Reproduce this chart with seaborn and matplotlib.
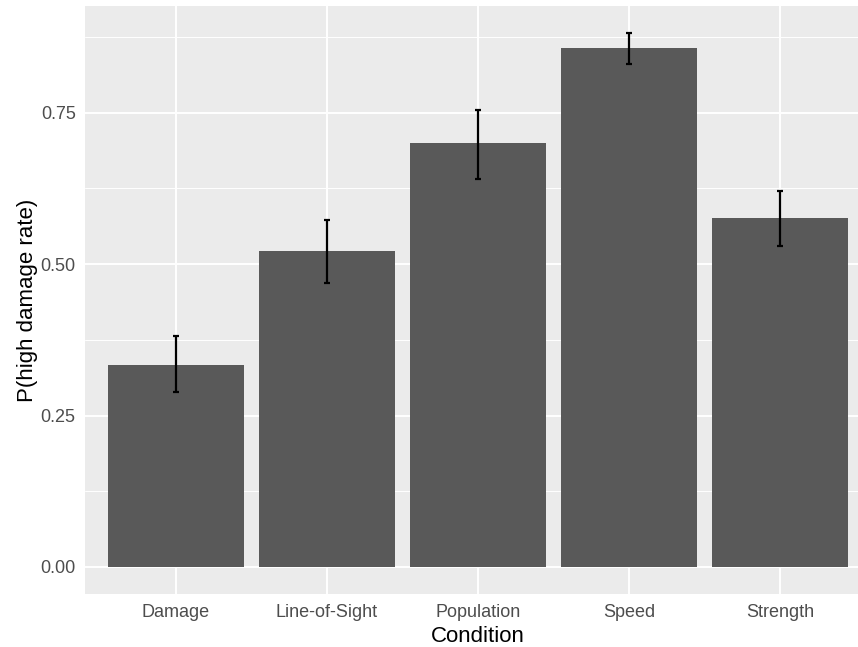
import numpy as np
import pandas as pd
import matplotlib
matplotlib.use("Agg")
import matplotlib.pyplot as plt
from matplotlib.ticker import FixedLocator
import seaborn as sns

conditions = ["Damage", "Line-of-Sight", "Population", "Speed", "Strength"]
p_high = [0.333, 0.521, 0.700, 0.856, 0.576]
ci_low = [0.289, 0.469, 0.640, 0.830, 0.530]
ci_high = [0.381, 0.573, 0.754, 0.881, 0.620]
y_ticks = [0.00, 0.25, 0.50, 0.75]
y_tick_labels = ["0.00", "0.25", "0.50", "0.75"]

df = pd.DataFrame({"Condition": conditions, "p": p_high})

sns.set_theme(style="darkgrid")
plt.rcParams["font.family"] = ["Liberation Sans", "DejaVu Sans"]

fig = plt.figure(figsize=(8.58, 6.47), dpi=100)
ax = fig.add_axes([85 / 858, 53 / 647, (870.6 - 85) / 858, 588 / 647])
ax.set_facecolor("#EBEBEB")

sns.barplot(data=df, x="Condition", y="p", color="#595959", saturation=1,
            width=0.9, errorbar=None, ax=ax, zorder=2,
            edgecolor="none", linewidth=0)

x = np.arange(len(conditions))
p = np.array(p_high)
yerr = np.vstack([p - np.array(ci_low), np.array(ci_high) - p])
ax.errorbar(x, p, yerr=yerr, fmt="none", ecolor="black", elinewidth=1.6,
            capsize=2.2, capthick=1.6, zorder=3)

ax.set_xlim(-0.6, len(conditions) - 0.4)
ax.set_ylim(-0.0446, 0.926)

ax.set_yticks(y_ticks)
ax.set_yticklabels(y_tick_labels)
ax.yaxis.set_minor_locator(FixedLocator([0.125, 0.375, 0.625, 0.875]))

ax.grid(which="major", color="white", linewidth=1.4, zorder=0)
ax.grid(which="minor", axis="y", color="white", linewidth=0.7, zorder=0)
ax.set_axisbelow(True)

for s in ax.spines.values():
    s.set_visible(False)

ax.tick_params(axis="both", which="major", length=3.3, width=1.0, color="#333333",
               labelsize=13, labelcolor="#4D4D4D")
ax.tick_params(axis="x", which="major", pad=3.6)
ax.tick_params(axis="y", which="major", pad=3.4)
ax.tick_params(axis="both", which="minor", length=0)

ax.set_xlabel("Condition", fontsize=16, color="black", labelpad=4)
ax.set_ylabel("P(high damage rate)", fontsize=16, color="black", labelpad=2)

fig.savefig("out.png", dpi=100)
